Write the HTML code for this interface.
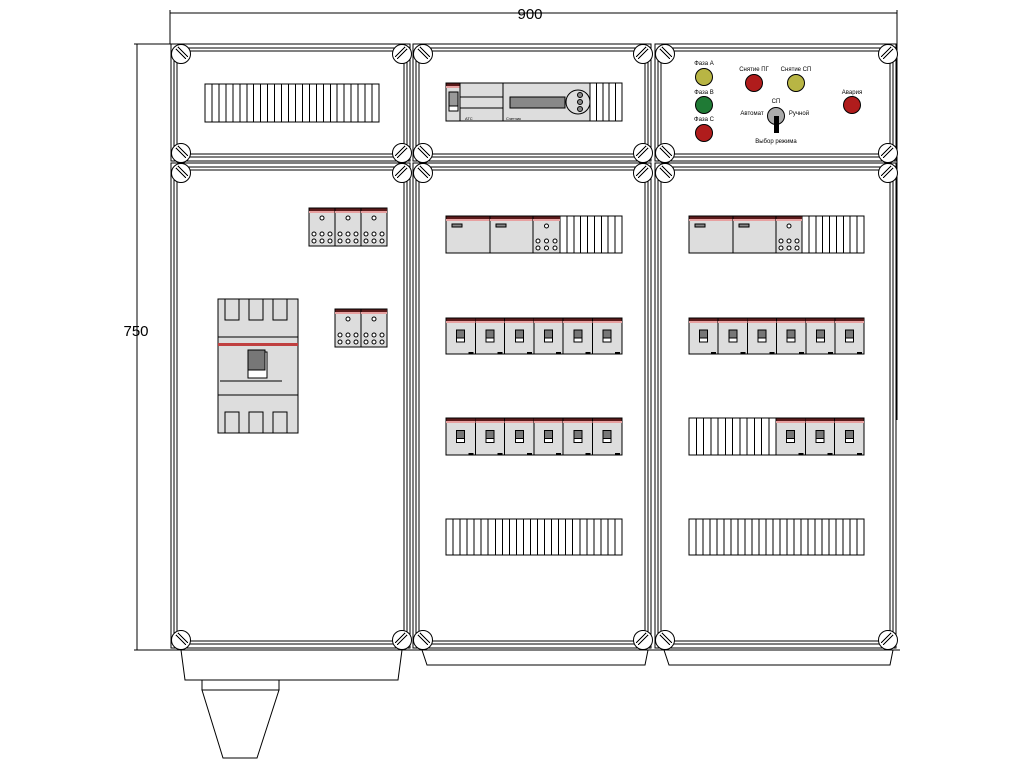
<!DOCTYPE html>
<html><head><meta charset="utf-8"><style>
html,body{margin:0;padding:0;background:#fff;width:1024px;height:768px;overflow:hidden}
svg{display:block}
line,rect{shape-rendering:crispEdges}
text{font-family:"Liberation Sans",sans-serif}
</style></head><body>
<svg id="s" width="1024" height="768" viewBox="0 0 1024 768" xmlns="http://www.w3.org/2000/svg">
<g id="g" fill="none" stroke="#000" stroke-width="1"></g>
<text x="530" y="19" font-size="15" text-anchor="middle">900</text>
<text x="136" y="336" font-size="15" text-anchor="middle">750</text>
<g font-size="6" fill="#000" text-anchor="middle">
<text x="704" y="65">Фаза А</text>
<text x="704" y="94">Фаза В</text>
<text x="704" y="121">Фаза С</text>
<text x="754" y="71">Снятие ПГ</text>
<text x="796" y="71">Снятие СП</text>
<text x="852" y="94">Авария</text>
<text x="776" y="103">СП</text>
<text x="752" y="115">Автомат</text>
<text x="799" y="115">Ручной</text>
<text x="776" y="143">Выбор режима</text>
<text x="465" y="120" text-anchor="start" font-size="4">АТС</text>
<text x="506" y="120" text-anchor="start" font-size="4">Счетчик</text>
</g>
</svg>
<script>
(function(){
var g=document.getElementById('g');var NS='http://www.w3.org/2000/svg';
function el(t,a){var e=document.createElementNS(NS,t);for(var k in a)e.setAttribute(k,a[k]);g.appendChild(e);return e;}
function R(x,y,w,h,f,sw){return el('rect',{x:x,y:y,width:w,height:h,fill:f||'none',stroke:'#000','stroke-width':sw||1});}
function L(a,b,c,d){el('line',{x1:a,y1:b,x2:c,y2:d,stroke:'#000'});}
function P(pts,f){el('polygon',{points:pts,fill:f||'none',stroke:'#000'});}
L(170,13,897,13);L(170,10,170,44);L(897,10,897,420);
L(137,44,137,650);L(134,44,176,44);L(134,650,180,650);
function panel(x1,y1,x2,y2){
 R(x1,y1,x2-x1,y2-y1);R(x1+3,y1+4,x2-x1-6,y2-y1-8);R(x1+6,y1+7,x2-x1-12,y2-y1-14);
 [[x1+10,y1+10],[x2-8,y1+10],[x1+10,y2-8],[x2-8,y2-8]].forEach(function(c,i){
  el('circle',{cx:c[0],cy:c[1],r:9.5,fill:'#fff',stroke:'#000'});
  var d=(i%2==0)?1:-1;
  L(c[0]-5*d,c[1]-5,c[0]+5*d,c[1]+5);L(c[0]-3*d,c[1]-7,c[0]+7*d,c[1]+3);
 });
}
var cols=[[171,410],[413,651],[655,896]];
cols.forEach(function(c){panel(c[0],44,c[1],161);panel(c[0],163,c[1],648);});
L(165,650,900,650);
P('181,650 402,650 398,680 185,680');R(202,680,77,10);P('202,690 279,690 257,758 223,758');
P('422,650 648,650 645,665 427,665');P('664,650 893,650 890,665 669,665');
function term(x,y,w,h,n){R(x,y,w,h,'#fff');for(var i=1;i<n;i++)L(x+w*i/n,y,x+w*i/n,y+h);}
term(205,84,174,38,25);
term(590,83,32,38,5);
term(560,216,62,37,9);term(802,216,62,37,9);
term(446,519,176,36,25);term(689,519,175,36,25);term(689,418,87,37,12);
function topbar(x,y,w){R(x,y,w,3,'#5a1a1a',0.5);el('rect',{x:x,y:y+3,width:w,height:2,fill:'#e7a0a0',stroke:'none'});}
function mcb(x,y,w,h){R(x,y,w,h,'#ddd');topbar(x,y,w);R(x+w/2-4,y+h/3,8,12,'#fff');R(x+w/2-4,y+h/3,8,8,'#777');el('rect',{x:x+w-7,y:y+h-2,width:5,height:2,fill:'#000',stroke:'none'});}
function mrow(x,y,n,w,h){for(var i=0;i<n;i++)mcb(x+i*w,y,w,h);}
mrow(446,318,6,29.3,36);mrow(446,418,6,29.3,37);mrow(689,318,6,29.2,36);mrow(776,418,3,29.3,37);
function big(x,y,w,h){R(x,y,w,h,'#ddd');topbar(x,y,w);R(x+6,y+8,10,3,'#888');}
function screw(cx,cy){el('circle',{cx:cx,cy:cy,r:2,fill:'#fff',stroke:'#000'});}
function blk(x,y,w,h){R(x,y,w,h,'#ddd');topbar(x,y,w);screw(x+w/2,y+10);for(var i=0;i<3;i++){screw(x+5+i*(w-10)/2,y+h-12);screw(x+5+i*(w-10)/2,y+h-5);}}
big(446,216,44,37);big(490,216,43,37);blk(533,216,27,37);
big(689,216,44,37);big(733,216,43,37);blk(776,216,26,37);
blk(309,208,26,38);blk(335,208,26,38);blk(361,208,26,38);
blk(335,309,26,38);blk(361,309,26,38);
R(218,299,80,134,'#ddd');
[226,250,274].forEach(function(x){R(x-1,299,14,21,'#ddd');R(x-1,412,14,21,'#ddd');});
L(218,337,298,337);L(218,395,298,395);L(220,381,282,381);
el('rect',{x:218,y:343,width:80,height:3,fill:'#c04040',stroke:'none'});
R(248,352,19,26,'#fff');R(248,350,17,20,'#777');
R(446,83,144,38,'#ddd');topbar(446,83,14);R(449,92,9,14,'#999');R(449,106,9,5,'#fff');
L(460,83,460,121);L(503,83,503,121);L(460,97,503,97);L(460,108,503,108);
R(510,97,55,11,'#888');el('circle',{cx:578,cy:102,r:12,fill:'#ddd',stroke:'#000'});
[95,102,109].forEach(function(y){el('circle',{cx:580,cy:y,r:2.5,fill:'#888',stroke:'#000'});});
function lamp(cx,cy,f){el('circle',{cx:cx,cy:cy,r:8.5,fill:f,stroke:'#000'});}
lamp(704,77,'#b8b544');lamp(704,105,'#1f7a35');lamp(704,133,'#b01c1c');
lamp(754,83,'#b01c1c');lamp(796,83,'#b8b544');lamp(852,105,'#b01c1c');
lamp(776,116,'#aaa');el('rect',{x:774,y:116,width:5,height:17,fill:'#000',stroke:'none'});
})();
</script>
</body></html>
